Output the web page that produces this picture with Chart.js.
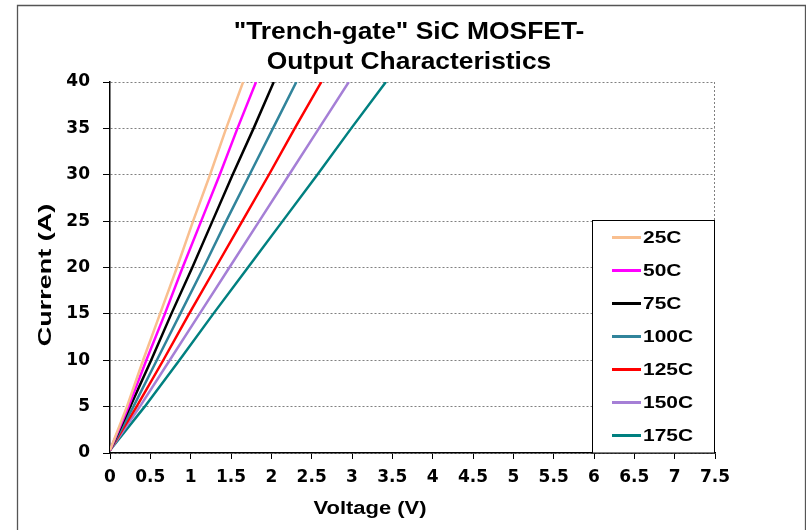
<!DOCTYPE html>
<html>
<head>
<meta charset="utf-8">
<title>Trench-gate SiC MOSFET - Output Characteristics</title>
<script src="https://cdn.jsdelivr.net/npm/chart.js@4"></script>
<style>
  html, body { margin: 0; padding: 0; background: #fff; }
  canvas { display: block; }
</style>
</head>
<body>
<canvas id="outputChart" width="806" height="530"></canvas>
<script>
// Drain current points (A) shared by every curve
const currents = [0.3, 5, 10, 15, 20, 25, 30, 35, 40];

// Voltage (V) read at each current, per temperature
const v25C  = [0, 0.21, 0.41, 0.62, 0.83, 1.03, 1.24, 1.44, 1.65];
const v50C  = [0, 0.23, 0.45, 0.68, 0.90, 1.13, 1.36, 1.58, 1.81];
const v75C  = [0, 0.25, 0.51, 0.76, 1.02, 1.27, 1.52, 1.78, 2.03];
const v100C = [0, 0.29, 0.58, 0.87, 1.16, 1.44, 1.73, 2.02, 2.31];
const v125C = [0, 0.33, 0.66, 0.98, 1.31, 1.64, 1.97, 2.29, 2.62];
const v150C = [0, 0.37, 0.74, 1.11, 1.48, 1.85, 2.22, 2.59, 2.96];
const v175C = [0, 0.43, 0.86, 1.28, 1.71, 2.14, 2.57, 2.99, 3.42];

const seriesLabels = ['25C', '50C', '75C', '100C', '125C', '150C', '175C'];
const seriesVolts = [v25C, v50C, v75C, v100C, v125C, v150C, v175C];
const seriesColors = ['#F9BF8F', '#FF00FF', '#000000', '#31849B', '#FF0000', '#A57FD6', '#008080'];

// Axis ticks
const xMin = 0, xMax = 7.5, xStep = 0.5;
const yMin = 0, yMax = 40, yStep = 5;

const titleLines = ['"Trench-gate" SiC MOSFET-', 'Output Characteristics'];
const xTitle = 'Voltage (V)';
const yTitle = 'Current (A)';

const FONT = "'Liberation Sans', Arial, sans-serif";
const TICK_FONT = "'DejaVu Sans', Verdana, sans-serif";

const datasets = seriesLabels.map((label, i) => ({
  label: label,
  data: seriesVolts[i].map((v, j) => ({ x: v, y: currents[j] })),
  borderColor: seriesColors[i],
  backgroundColor: seriesColors[i],
  borderWidth: 2.5,
  pointRadius: 0,
  showLine: true,
  tension: 0
}));

// draws text stretched along its own direction
function wideText(ctx, text, x, y, sx) {
  ctx.save();
  ctx.translate(x, y);
  ctx.scale(sx, 1);
  ctx.fillText(text, 0, 0);
  ctx.restore();
}

// Title, axis titles, legend box and frame
const decorations = {
  id: 'decorations',
  afterDraw(chart) {
    const ctx = chart.ctx;
    const area = chart.chartArea;
    ctx.save();

    // outer frame
    ctx.strokeStyle = '#555';
    ctx.lineWidth = 1.3;
    ctx.beginPath();
    ctx.moveTo(17.5, 540);
    ctx.lineTo(17.5, 5.5);
    ctx.lineTo(805.5, 5.5);
    ctx.lineTo(805.5, 540);
    ctx.stroke();

    // dotted right edge of plot
    ctx.strokeStyle = '#808080';
    ctx.lineWidth = 1;
    ctx.setLineDash([2, 2]);
    ctx.beginPath();
    ctx.moveTo(area.right - 0.5, area.top);
    ctx.lineTo(area.right - 0.5, area.bottom);
    ctx.stroke();
    ctx.setLineDash([]);

    // title
    ctx.fillStyle = '#000';
    ctx.font = 'bold 24px ' + FONT;
    ctx.textAlign = 'center';
    ctx.textBaseline = 'middle';
    wideText(ctx, titleLines[0], 409, 32, 1.1);
    wideText(ctx, titleLines[1], 409, 62, 1.1);

    // axis titles
    ctx.font = 'bold 18px ' + FONT;
    wideText(ctx, xTitle, 370, 509, 1.22);
    ctx.save();
    ctx.translate(46, 275);
    ctx.rotate(-Math.PI / 2);
    wideText(ctx, yTitle, 0, 0, 1.5);
    ctx.restore();

    // legend
    const box = { left: 592.5, top: 220.5, right: area.right - 0.5, bottom: area.bottom };
    ctx.fillStyle = '#fff';
    ctx.fillRect(box.left, box.top, box.right - box.left, box.bottom - box.top);
    ctx.strokeStyle = '#000';
    ctx.lineWidth = 1;
    ctx.strokeRect(box.left, box.top, box.right - box.left, box.bottom - box.top);
    ctx.font = 'bold 17px ' + FONT;
    ctx.textAlign = 'left';
    chart.data.datasets.forEach((ds, i) => {
      const y = 237.5 + i * 33;
      ctx.strokeStyle = ds.borderColor;
      ctx.lineWidth = 3;
      ctx.beginPath();
      ctx.moveTo(612, y);
      ctx.lineTo(641, y);
      ctx.stroke();
      ctx.fillStyle = '#000';
      wideText(ctx, ds.label, 643, y + 1, 1.23);
    });

    ctx.restore();
  }
};

new Chart(document.getElementById('outputChart'), {
  type: 'scatter',
  data: { datasets: datasets },
  options: {
    responsive: false,
    animation: false,
    devicePixelRatio: 1,
    layout: { padding: { top: 82, right: 91, bottom: 0, left: 0 } },
    plugins: {
      legend: { display: false },
      title: { display: false },
      tooltip: { enabled: false }
    },
    scales: {
      x: {
        type: 'linear',
        min: xMin,
        max: xMax,
        afterFit: s => { s.height = 77; },
        ticks: {
          stepSize: xStep,
          autoSkip: false,
          maxRotation: 0,
          color: '#000',
          padding: 8,
          callback: v => String(v),
          font: { family: TICK_FONT, size: 17, weight: 'bold' }
        },
        grid: { drawOnChartArea: false, drawTicks: true, tickLength: 6, tickColor: '#000' },
        border: { color: '#000', width: 1.5 }
      },
      y: {
        type: 'linear',
        min: yMin,
        max: yMax,
        afterFit: s => { s.width = 110; },
        ticks: {
          stepSize: yStep,
          color: '#000',
          padding: 13,
          font: { family: TICK_FONT, size: 17, weight: 'bold' }
        },
        grid: { color: '#808080', lineWidth: 1, tickLength: 7, tickColor: '#000' },
        border: { color: '#000', width: 1.5, dash: [2, 2] }
      }
    }
  },
  plugins: [decorations]
});
</script>
</body>
</html>
